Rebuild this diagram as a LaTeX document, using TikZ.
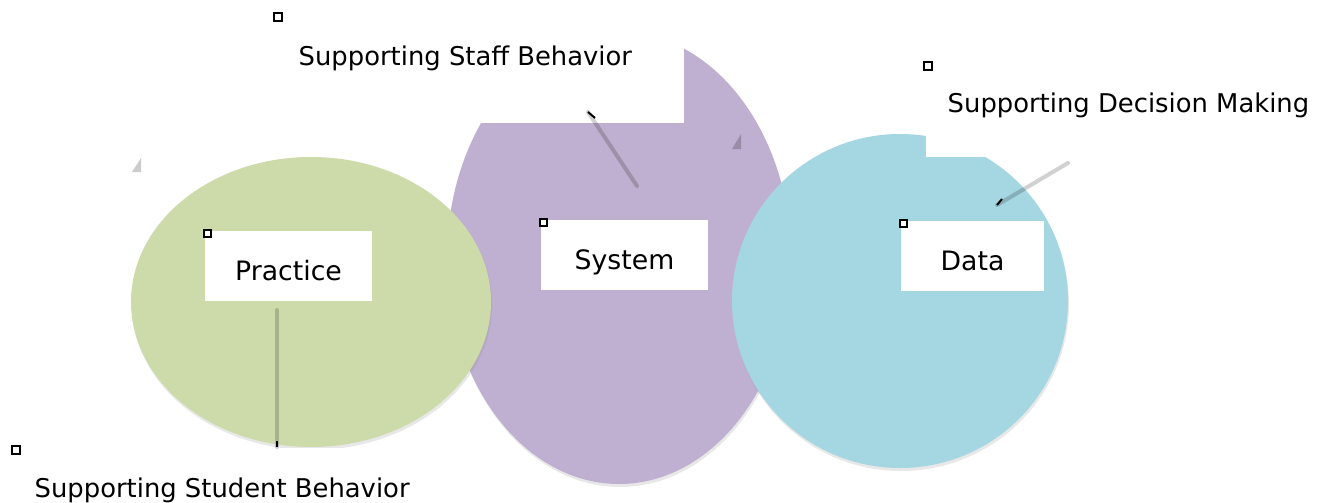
\documentclass[tikz,border=0pt]{standalone}
\usepackage{fontspec}
\setmainfont{DejaVu Sans}
\usetikzlibrary{shadows}

\definecolor{practicegreen}{RGB}{205,218,170}
\definecolor{systempurple}{RGB}{191,176,209}
\definecolor{datablue}{RGB}{164,215,226}

\tikzset{
  blob/.style={drop shadow={shadow xshift=0.01cm, shadow yshift=-0.03cm, opacity=0.18}},
  labelbox/.style={fill=white, inner sep=0pt, minimum height=0.70cm, text height=0.28cm, text depth=0cm, font=\fontsize{7.6}{9}\selectfont},
  whitebox/.style={fill=white, inner sep=0pt, anchor=north west},
  caption/.style={inner sep=0pt, anchor=base west, font=\fontsize{7.35}{9}\selectfont},
  handle/.style={draw=black, fill=white, line width=0.02cm, inner sep=0pt, minimum size=0.075cm},
  leader/.style={line width=0.04cm, black, opacity=0.18, line cap=round},
  tick/.style={line width=0.02cm, black},
  ghost/.style={fill=black, opacity=0.2}
}

\begin{document}
\begin{tikzpicture}
    \useasboundingbox[fill=white] (0,0) rectangle (13.26,5.02);

    \fill[systempurple, blob] (6.19, 2.44) ellipse (1.72cm and 2.26cm);
    \fill[practicegreen, blob] (3.11, 2.00) ellipse (1.80cm and 1.45cm);
    \fill[datablue, blob] (9.00, 2.01) ellipse (1.68cm and 1.67cm);

    \node[whitebox, minimum width=4.08cm, minimum height=1.08cm] (staffbox) at (2.75, 4.88) {};
    \node[whitebox, minimum width=3.95cm, minimum height=0.93cm] (decisionbox) at (9.25, 4.39) {};
    \node[whitebox, minimum width=4.17cm, minimum height=0.70cm] (studentbox) at (0.13, 0.55) {};

    \node[caption] (staff) at (2.98, 4.37) {Supporting Staff Behavior};
    \node[caption] (decision) at (9.47, 3.90) {Supporting Decision Making};
    \node[caption] (student) at (0.34, 0.05) {Supporting Student Behavior};

    \node[labelbox, minimum width=1.67cm] (practice) at (2.885, 2.36) {Practice};
    \node[labelbox, minimum width=1.67cm] (system) at (6.245, 2.47) {System};
    \node[labelbox, minimum width=1.43cm] (data) at (9.725, 2.46) {Data};

    \node[handle] (hpractice) at ([xshift=0.03cm, yshift=-0.03cm]practice.north west) {};
    \node[handle] (hsystem) at ([xshift=0.03cm, yshift=-0.03cm]system.north west) {};
    \node[handle] (hdata) at ([xshift=0.03cm, yshift=-0.03cm]data.north west) {};
    \node[handle] (hstaff) at ([xshift=0.03cm, yshift=-0.03cm]staffbox.north west) {};
    \node[handle] (hdecision) at ([xshift=0.03cm, yshift=-0.03cm]decisionbox.north west) {};
    \node[handle] (hstudent) at ([xshift=0.03cm, yshift=-0.03cm]studentbox.north west) {};

    % leaders
    \coordinate (studentfoot) at (2.77, 0.55);
    \coordinate (studenthead) at (2.77, 1.92);
    \coordinate (stafffoot) at (5.88, 3.90);
    \coordinate (staffhead) at (6.37, 3.16);
    \coordinate (decisionfoot) at (9.97, 2.97);
    \coordinate (decisionhead) at (10.68, 3.39);

    \draw[leader] (studenthead) -- (studentfoot);
    \draw[leader] (staffhead) -- (stafffoot);
    \draw[leader] (decisionhead) -- (decisionfoot);

    \draw[tick] (studentfoot) -- ++(0, 0.06);
    \draw[tick] (stafffoot) -- ++(0.07, -0.06);
    \draw[tick] (decisionfoot) -- ++(0.05, 0.06);

    \fill[ghost] (1.32, 3.30) -- (1.41, 3.30) -- (1.41, 3.44) -- cycle;
    \fill[ghost] (7.32, 3.53) -- (7.41, 3.53) -- (7.41, 3.68) -- cycle;

\end{tikzpicture}
\end{document}
